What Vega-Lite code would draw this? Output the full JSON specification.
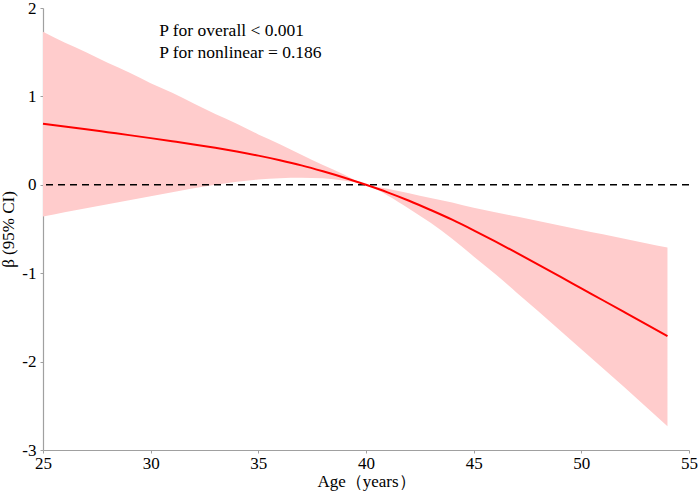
{
  "$schema": "https://vega.github.io/schema/vega-lite/v6.json",
  "width": 646,
  "height": 442,
  "autosize": {"type": "none"},
  "padding": {"left": 43, "top": 8, "right": 10, "bottom": 44},
  "background": "white",
  "config": {
    "view": {"stroke": null},
    "font": "Liberation Serif",
    "axis": {
      "grid": false,
      "domainColor": "#a0a0a0",
      "domainWidth": 1.2,
      "tickColor": "#a0a0a0",
      "tickSize": 3,
      "labelFont": "Liberation Serif",
      "labelFontSize": 17,
      "labelColor": "#000000",
      "titleFont": "Liberation Serif",
      "titleFontSize": 17,
      "titleFontWeight": "normal",
      "titleColor": "#000000",
      "labelBound": false,
      "labelFlush": false,
      "labelOverlap": false
    }
  },
  "datasets": {
    "curve": [
      {"age": 25, "fit": 0.69, "lo": -0.36, "hi": 1.73},
      {"age": 26, "fit": 0.66, "lo": -0.31, "hi": 1.61},
      {"age": 27, "fit": 0.628, "lo": -0.265, "hi": 1.50},
      {"age": 28, "fit": 0.595, "lo": -0.22, "hi": 1.38},
      {"age": 29, "fit": 0.562, "lo": -0.175, "hi": 1.27},
      {"age": 30, "fit": 0.528, "lo": -0.13, "hi": 1.15},
      {"age": 31, "fit": 0.493, "lo": -0.085, "hi": 1.04},
      {"age": 32, "fit": 0.457, "lo": -0.04, "hi": 0.92},
      {"age": 33, "fit": 0.418, "lo": 0.0, "hi": 0.80},
      {"age": 34, "fit": 0.376, "lo": 0.035, "hi": 0.69},
      {"age": 35, "fit": 0.33, "lo": 0.06, "hi": 0.57},
      {"age": 36, "fit": 0.278, "lo": 0.075, "hi": 0.46},
      {"age": 37, "fit": 0.22, "lo": 0.08, "hi": 0.34},
      {"age": 38, "fit": 0.153, "lo": 0.073, "hi": 0.225},
      {"age": 39, "fit": 0.08, "lo": 0.045, "hi": 0.115},
      {"age": 40, "fit": 0.0, "lo": 0.0, "hi": 0.0},
      {"age": 41, "fit": -0.085, "lo": -0.12, "hi": -0.045},
      {"age": 42, "fit": -0.18, "lo": -0.27, "hi": -0.095},
      {"age": 43, "fit": -0.285, "lo": -0.43, "hi": -0.15},
      {"age": 44, "fit": -0.395, "lo": -0.61, "hi": -0.20},
      {"age": 45, "fit": -0.515, "lo": -0.81, "hi": -0.26},
      {"age": 46, "fit": -0.64, "lo": -1.01, "hi": -0.31},
      {"age": 47, "fit": -0.77, "lo": -1.22, "hi": -0.36},
      {"age": 48, "fit": -0.902, "lo": -1.43, "hi": -0.41},
      {"age": 49, "fit": -1.036, "lo": -1.645, "hi": -0.46},
      {"age": 50, "fit": -1.171, "lo": -1.86, "hi": -0.51},
      {"age": 51, "fit": -1.306, "lo": -2.075, "hi": -0.56},
      {"age": 52, "fit": -1.441, "lo": -2.29, "hi": -0.61},
      {"age": 53, "fit": -1.576, "lo": -2.51, "hi": -0.66},
      {"age": 54, "fit": -1.711, "lo": -2.73, "hi": -0.71}
    ]
  },
  "layer": [
    {
      "data": {"name": "curve"},
      "mark": {"type": "area", "color": "#ffcccc", "opacity": 1, "interpolate": "monotone"},
      "encoding": {
        "x": {
          "field": "age", "type": "quantitative",
          "scale": {"domain": [25, 55], "nice": false, "zero": false},
          "axis": {"values": [25, 30, 35, 40, 45, 50, 55], "title": "Age（years）", "labelPadding": 2, "titlePadding": 2}
        },
        "y": {
          "field": "lo", "type": "quantitative",
          "scale": {"domain": [-3, 2], "nice": false, "zero": false},
          "axis": {
            "values": [-3, -2, -1, 0, 1, 2],
            "title": "β (95% CI)",
            "labelPadding": 4,
            "titlePadding": 4,
            "labelExpr": "datum.value < 0 ? '-' + abs(datum.value) : '' + datum.value"
          }
        },
        "y2": {"field": "hi"}
      }
    },
    {
      "data": {"values": [{}]},
      "mark": {"type": "rule", "color": "#000000", "strokeWidth": 1.6, "strokeDash": [7, 5]},
      "encoding": {"y": {"datum": 0}}
    },
    {
      "data": {"name": "curve"},
      "mark": {"type": "line", "color": "#ff0000", "strokeWidth": 2, "interpolate": "monotone"},
      "encoding": {
        "x": {"field": "age", "type": "quantitative"},
        "y": {"field": "fit", "type": "quantitative"}
      }
    },
    {
      "data": {"values": [{}]},
      "mark": {"type": "text", "text": "P for overall < 0.001", "align": "left", "baseline": "alphabetic", "fontSize": 17.5, "font": "Liberation Serif", "color": "#000000"},
      "encoding": {"x": {"datum": 30.4}, "y": {"datum": 1.68}}
    },
    {
      "data": {"values": [{}]},
      "mark": {"type": "text", "text": "P for nonlinear = 0.186", "align": "left", "baseline": "alphabetic", "fontSize": 17.5, "font": "Liberation Serif", "color": "#000000"},
      "encoding": {"x": {"datum": 30.4}, "y": {"datum": 1.44}}
    }
  ]
}
